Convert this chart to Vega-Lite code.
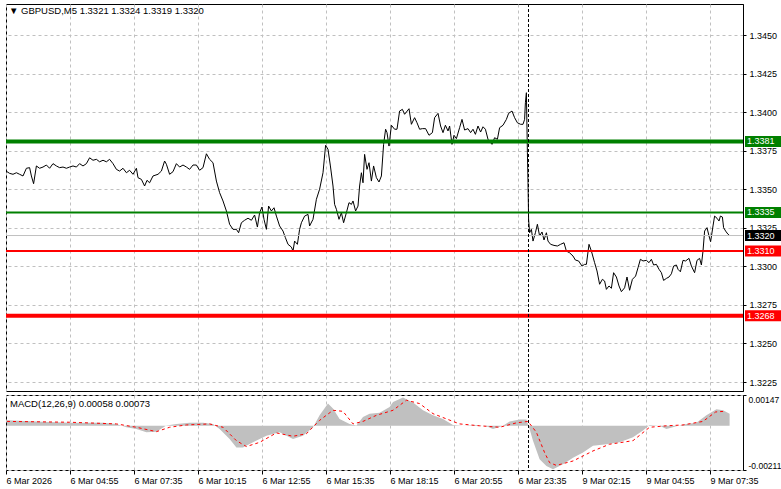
{
"$schema": "https://vega.github.io/schema/vega-lite/v6.json",
"padding": {"left": 3, "top": 3, "right": 0, "bottom": 0},
"background": "white",
"spacing": 2,
"config": {
 "view": {"stroke": "black", "strokeWidth": 1},
 "axis": {"labelFont": "Liberation Sans", "labelFontSize": 9, "labelColor": "black", "gridColor": "#c0c0c0", "gridDash": [3, 3], "gridWidth": 1, "domainColor": "black", "tickColor": "black"}
},
"datasets": {
 "price": [
  {"b":0,"p":1.33614},{"b":1.3,"p":1.33603},{"b":3,"p":1.33597},{"b":4.7,"p":1.33607},{"b":6.3,"p":1.33597},{"b":8,"p":1.33586},{"b":9.7,"p":1.33636},{"b":11.3,"p":1.3364},{"b":12.2,"p":1.33586},{"b":13.3,"p":1.33536},{"b":14.7,"p":1.33651},{"b":16.3,"p":1.33636},{"b":18,"p":1.33644},{"b":19.7,"p":1.33657},{"b":21.3,"p":1.33636},{"b":23,"p":1.33666},{"b":24.7,"p":1.33651},{"b":26.3,"p":1.3364},{"b":28,"p":1.33644},{"b":29.7,"p":1.33636},{"b":31.3,"p":1.33644},{"b":33,"p":1.33651},{"b":34.7,"p":1.33644},{"b":36.3,"p":1.33666},{"b":38,"p":1.33651},{"b":39.7,"p":1.33666},{"b":41.3,"p":1.33704},{"b":43,"p":1.33688},{"b":44.7,"p":1.33694},{"b":46.3,"p":1.33678},{"b":48,"p":1.33688},{"b":49.7,"p":1.33678},{"b":51.3,"p":1.33694},{"b":53,"p":1.33666},{"b":54.7,"p":1.33629},{"b":56.3,"p":1.33618},{"b":58,"p":1.33636},{"b":59.7,"p":1.33607},{"b":61.3,"p":1.33623},{"b":63,"p":1.33597},{"b":64.7,"p":1.33636},{"b":65.5,"p":1.33575},{"b":67.2,"p":1.33564},{"b":68.8,"p":1.33521},{"b":70,"p":1.33558},{"b":71.3,"p":1.33542},{"b":73,"p":1.33586},
  {"b":75.5,"p":1.33597},{"b":77.2,"p":1.33618},{"b":78.8,"p":1.33683},{"b":79.7,"p":1.33662},{"b":81.3,"p":1.33597},{"b":83,"p":1.33614},{"b":84.7,"p":1.33666},{"b":86.3,"p":1.33644},{"b":88,"p":1.33657},{"b":89.7,"p":1.33644},{"b":91.3,"p":1.33629},{"b":93,"p":1.33657},{"b":94.7,"p":1.33657},{"b":96.3,"p":1.33623},{"b":98,"p":1.3364},{"b":99.7,"p":1.3373},{"b":101.3,"p":1.33694},{"b":103,"p":1.33672},{"b":104.7,"p":1.33553},{"b":106.3,"p":1.33478},{"b":108,"p":1.33424},{"b":109.7,"p":1.33359},{"b":111.3,"p":1.33273},{"b":113,"p":1.3324},{"b":114.7,"p":1.3324},{"b":115.8,"p":1.33218},{"b":117.2,"p":1.33283},{"b":118.8,"p":1.33299},{"b":120.5,"p":1.33312},{"b":122.2,"p":1.33299},{"b":123.8,"p":1.33333},{"b":125.2,"p":1.33255},{"b":126.3,"p":1.33348},{"b":127.5,"p":1.33385},{"b":128.5,"p":1.33305},{"b":129.7,"p":1.3324},{"b":130.8,"p":1.33391},{"b":132.2,"p":1.33359},{"b":133.5,"p":1.3338},{"b":134.7,"p":1.33326},{"b":136.3,"p":1.33262},{"b":138,"p":1.33229},{"b":139.2,"p":1.33186},{"b":140.5,"p":1.33143},{"b":142.2,"p":1.33125},{"b":143,"p":1.33099},{"b":143.8,"p":1.33164},{"b":145.2,"p":1.33143},
  {"b":146.3,"p":1.3324},{"b":147.2,"p":1.33283},{"b":148.8,"p":1.33326},{"b":150.5,"p":1.33337},{"b":151.3,"p":1.33262},{"b":153,"p":1.33305},{"b":154.7,"p":1.33435},{"b":156.3,"p":1.335},{"b":158,"p":1.33607},{"b":159.3,"p":1.33785},{"b":160.5,"p":1.33759},{"b":161.7,"p":1.33651},{"b":163,"p":1.33521},{"b":163.8,"p":1.33402},{"b":164.7,"p":1.3337},{"b":166,"p":1.33305},{"b":167.2,"p":1.33348},{"b":168.3,"p":1.33283},{"b":169.7,"p":1.33348},{"b":171,"p":1.33413},{"b":172.2,"p":1.33402},{"b":173,"p":1.33424},{"b":174.3,"p":1.33359},{"b":175.5,"p":1.33391},{"b":176.3,"p":1.33521},{"b":177.2,"p":1.33607},{"b":178,"p":1.33542},{"b":178.8,"p":1.33726},{"b":180,"p":1.33629},{"b":181,"p":1.33672},{"b":182.2,"p":1.33553},{"b":183.3,"p":1.33651},{"b":184.7,"p":1.33575},{"b":186,"p":1.33547},{"b":187.2,"p":1.33586},{"b":188.3,"p":1.33791},{"b":189.3,"p":1.33889},{"b":190,"p":1.33867},{"b":191,"p":1.3378},{"b":192.2,"p":1.33915},{"b":193.8,"p":1.33889},{"b":195,"p":1.33889},{"b":196.3,"p":1.34007},{"b":197.7,"p":1.34018},{"b":198.8,"p":1.33986},{"b":201,"p":1.34022},{"b":202.2,"p":1.33921},{"b":203.8,"p":1.33964},{"b":205,"p":1.33931},{"b":206.3,"p":1.33889},{"b":207.7,"p":1.33893},{"b":209.3,"p":1.33893},{"b":211,"p":1.3385},{"b":212.7,"p":1.33867},{"b":213.8,"p":1.33964},{"b":215.5,"p":1.33992},
  {"b":216.8,"p":1.3391},{"b":218,"p":1.33867},{"b":219.2,"p":1.33915},{"b":220.5,"p":1.33878},{"b":221.3,"p":1.3391},{"b":222.5,"p":1.33791},{"b":223.5,"p":1.3385},{"b":224.7,"p":1.33828},{"b":226.3,"p":1.33899},{"b":227.5,"p":1.33953},{"b":228.8,"p":1.33884},{"b":230.5,"p":1.33893},{"b":231.8,"p":1.33867},{"b":233,"p":1.33889},{"b":234.2,"p":1.33856},{"b":235.5,"p":1.3391},{"b":236.8,"p":1.33871},{"b":238,"p":1.33905},{"b":239.2,"p":1.33889},{"b":240.5,"p":1.33824},{"b":242.5,"p":1.33791},{"b":243.8,"p":1.33834},{"b":245.2,"p":1.33824},{"b":246.3,"p":1.33899},{"b":248,"p":1.33915},{"b":249.7,"p":1.33953},{"b":250.8,"p":1.33992},{"b":252.5,"p":1.34007},{"b":253.8,"p":1.33964},{"b":255.2,"p":1.33931},{"b":256.8,"p":1.33921},{"b":258,"p":1.33921},{"b":258.8,"p":1.33953},{"b":259.2,"p":1.34061},{"b":259.7,"p":1.34126},{"b":260.2,"p":1.33737},{"b":260.5,"p":1.33542},{"b":260.8,"p":1.33305},{"b":261.3,"p":1.33218},{"b":262.2,"p":1.3324},{"b":263,"p":1.33164},{"b":264.2,"p":1.33218},{"b":265.2,"p":1.33273},{"b":266.3,"p":1.33197},{"b":267.5,"p":1.33223},{"b":268.5,"p":1.33171},{"b":269.7,"p":1.33218},{"b":270.5,"p":1.33164},{"b":271.8,"p":1.33143},{"b":273.5,"p":1.33136},{"b":275.2,"p":1.33132},{"b":276.8,"p":1.33143},{"b":278.5,"p":1.33153},{"b":279.7,"p":1.33099},{"b":281.3,"p":1.33088},{"b":283,"p":1.33067},{"b":284.2,"p":1.33041},{"b":285.8,"p":1.33035},{"b":287.5,"p":1.33002},{"b":288.8,"p":1.33013},
  {"b":289.7,"p":1.33013},{"b":291,"p":1.33143},{"b":292.2,"p":1.33099},{"b":293.8,"p":1.33024},{"b":295,"p":1.3297},{"b":296.3,"p":1.32884},{"b":297.7,"p":1.32916},{"b":298.8,"p":1.32905},{"b":299.7,"p":1.32851},{"b":301,"p":1.32873},{"b":302.2,"p":1.32858},{"b":303.3,"p":1.32959},{"b":304.7,"p":1.32931},{"b":306,"p":1.32873},{"b":307.2,"p":1.32836},{"b":308.8,"p":1.32861},{"b":310,"p":1.32931},{"b":311.3,"p":1.32845},{"b":312.7,"p":1.32916},{"b":314.3,"p":1.32937},{"b":315.5,"p":1.32991},{"b":316.7,"p":1.33046},{"b":318,"p":1.33035},{"b":319.7,"p":1.33039},{"b":321,"p":1.33024},{"b":322.2,"p":1.33046},{"b":323.3,"p":1.33009},{"b":324.7,"p":1.33013},{"b":326,"p":1.32981},{"b":327.2,"p":1.32959},{"b":328.3,"p":1.32909},{"b":329.7,"p":1.32922},{"b":331,"p":1.32931},{"b":332.2,"p":1.32952},{"b":333.3,"p":1.33002},{"b":334.7,"p":1.33009},{"b":335.5,"p":1.32981},{"b":336.7,"p":1.32965},{"b":338,"p":1.33039},{"b":339.3,"p":1.33035},{"b":341,"p":1.33052},{"b":342.2,"p":1.33002},{"b":343.8,"p":1.32959},{"b":345,"p":1.33039},{"b":346.3,"p":1.33052},{"b":347.2,"p":1.33009},{"b":348,"p":1.33099},{"b":348.8,"p":1.33229},{"b":350,"p":1.33251},{"b":351,"p":1.33197},{"b":351.8,"p":1.3316},{"b":353,"p":1.33262},{"b":353.8,"p":1.33326},{"b":355,"p":1.33312},{"b":356,"p":1.33294},{"b":356.7,"p":1.33326},{"b":357.7,"p":1.3332},{"b":358.3,"p":1.33251},{"b":359.3,"p":1.33229},{"b":360.5,"p":1.33208},{"b":361.3,"p":1.332}
 ],
 "levels": [
  {"p":1.3381,"kind":"buy target"},
  {"p":1.3335,"kind":"buy entry"},
  {"p":1.3320,"kind":"last price"},
  {"p":1.3310,"kind":"sell entry"},
  {"p":1.3268,"kind":"sell target"}
 ],
 "sep": [{"b":260.75}],
 "heading": [{"main": "▼ GBPUSD,M5  1.3321 1.3324 1.3319 1.3320", "macd": "MACD(12,26,9) 0.00058 0.00073"}],
 "hist": [
  {"b":0,"m":0.00026},{"b":14.7,"m":0.00021},{"b":31.3,"m":0.00014},{"b":48,"m":0.00014},{"b":54.7,"m":0.00009},{"b":59.7,"m":-0.00007},{"b":64.7,"m":-0.00015},{"b":69.7,"m":-0.00031},{"b":74.7,"m":-0.00028},{"b":79.7,"m":0.00001},{"b":84.7,"m":0.00009},{"b":91.3,"m":0.00014},{"b":98,"m":0.00014},{"b":103,"m":0.00009},{"b":106.3,"m":-0.00015},{"b":111.3,"m":-0.00063},{"b":114.7,"m":-0.00104},{"b":118,"m":-0.00104},{"b":123,"m":-0.00079},{"b":129.7,"m":-0.00047},{"b":136.3,"m":-0.00031},{"b":143,"m":-0.00063},{"b":148,"m":-0.00047},{"b":153,"m":-0.00007},{"b":156.3,"m":0.0005},{"b":160.5,"m":0.00106},{"b":163,"m":0.00082},{"b":166.3,"m":0.00033},{"b":171.3,"m":0.00009},{"b":174.7,"m":0.00001},{"b":178,"m":0.00042},{"b":181.3,"m":0.00058},{"b":186.3,"m":0.00062},{"b":191.3,"m":0.0009},
  {"b":193,"m":0.00114},{"b":198,"m":0.00135},{"b":203,"m":0.00111},{"b":208,"m":0.00074},{"b":213,"m":0.0005},{"b":218,"m":0.00033},{"b":223,"m":0.00004},{"b":228,"m":0},{"b":234.7,"m":0.00004},{"b":239.7,"m":-0.00002},{"b":243,"m":-0.00015},{"b":248,"m":0},{"b":251.3,"m":0.00021},{"b":256.3,"m":0.0003},{"b":259.7,"m":0.0003},{"b":261.3,"m":-0.00015},{"b":263,"m":-0.00071},{"b":266.3,"m":-0.0016},{"b":269.7,"m":-0.00192},{"b":273,"m":-0.00208},{"b":278,"m":-0.00184},{"b":283,"m":-0.00152},{"b":288,"m":-0.00128},{"b":293,"m":-0.00095},{"b":299.7,"m":-0.00088},{"b":306.3,"m":-0.00079},{"b":313,"m":-0.00055},{"b":318,"m":-0.00023},{"b":321.3,"m":0.00004},{"b":326.3,"m":0},{"b":329.7,"m":-0.00015},{"b":334.7,"m":-0.00002},{"b":339.7,"m":0.00009},{"b":344.7,"m":0.00014},{"b":349.7,"m":0.0005},{"b":354.7,"m":0.00079},{"b":358,"m":0.00074},{"b":361.3,"m":0.00058}
 ],
 "signal": [
  {"b":0,"s":0.00021},{"b":31.3,"s":0.00017},{"b":54.7,"s":0.00009},{"b":64.7,"s":-0.00007},{"b":74.7,"s":-0.00028},{"b":81.3,"s":-0.00007},{"b":89.7,"s":0.00004},{"b":101.3,"s":0.00009},{"b":108,"s":-0.00007},{"b":114.7,"s":-0.00071},{"b":119.7,"s":-0.00099},{"b":126.3,"s":-0.00079},{"b":134.7,"s":-0.00034},{"b":143,"s":-0.0005},{"b":149.7,"s":-0.00038},{"b":156.3,"s":0.00026},{"b":163,"s":0.00074},{"b":168,"s":0.00069},{"b":173,"s":0.00009},{"b":178,"s":0.00021},{"b":184.7,"s":0.0005},{"b":191.3,"s":0.00069},{"b":193,"s":0.00074},{"b":199.7,"s":0.00122},{"b":206.3,"s":0.00106},{"b":213,"s":0.00058},{"b":219.7,"s":0.00033},{"b":226.3,"s":0.00009},{"b":236.3,"s":0},{"b":246.3,"s":-0.00007},{"b":254.7,"s":0.00014},{"b":260.5,"s":0.00021},{"b":264.7,"s":-0.00031},{"b":268.8,"s":-0.00128},{"b":271.3,"s":-0.00176},{"b":274.7,"s":-0.00189},{"b":283,"s":-0.00168},{"b":293,"s":-0.0012},{"b":301.3,"s":-0.00088},{"b":313,"s":-0.00071},{"b":321.3,"s":-0.00007},{"b":329.7,"s":0},{"b":338,"s":0.00004},{"b":348,"s":0.00021},{"b":354.3,"s":0.00066},{"b":358.5,"s":0.00069}
 ]
},
"vconcat": [
 {
  "width": 737, "height": 387,
  "layer": [
   {
    "data": {"name": "price"},
    "mark": {"type": "line", "color": "black", "strokeWidth": 1},
    "encoding": {
     "x": {"field": "b", "type": "quantitative", "scale": {"domain": [-0.5, 368], "nice": false, "zero": false},
      "axis": {"title": null, "labels": false, "ticks": false, "domain": false, "grid": true,
       "values": [-0.5, 15.5, 31.5, 47.5, 63.5, 79.5, 95.5, 111.5, 127.5, 143.5, 159.5, 175.5, 191.5, 207.5, 223.5, 239.5, 255.5, 271.5, 287.5, 303.5, 319.5, 335.5, 351.5]}},
     "y": {"field": "p", "type": "quantitative", "scale": {"domain": [1.32192, 1.34701], "nice": false, "zero": false},
      "axis": {"title": null, "orient": "right", "values": [1.3225, 1.325, 1.3275, 1.33, 1.3325, 1.335, 1.3375, 1.34, 1.3425, 1.345], "format": ".4f", "tickSize": 3, "labelPadding": 3, "grid": true}}
    }
   },
   {
    "data": {"name": "levels"},
    "mark": {"type": "rule"},
    "encoding": {
     "y": {"field": "p", "type": "quantitative"},
     "stroke": {"field": "kind", "type": "nominal", "legend": null,
      "scale": {"domain": ["buy target", "buy entry", "last price", "sell entry", "sell target"], "range": ["#008000", "#008000", "#c0c0c0", "#ff0000", "#ff0000"]}},
     "strokeWidth": {"field": "kind", "type": "nominal", "legend": null,
      "scale": {"type": "ordinal", "domain": ["buy target", "buy entry", "last price", "sell entry", "sell target"], "range": [4, 2, 1, 2, 4]}}
    }
   },
   {
    "data": {"name": "sep"},
    "mark": {"type": "rule", "color": "black", "strokeDash": [3, 2], "strokeWidth": 1},
    "encoding": {"x": {"field": "b", "type": "quantitative"}}
   },
   {
    "data": {"name": "levels"},
    "mark": {"type": "tick", "orient": "horizontal", "size": 36, "thickness": 11, "opacity": 1},
    "encoding": {
     "y": {"field": "p", "type": "quantitative"},
     "x": {"datum": 378, "type": "quantitative"},
     "fill": {"field": "kind", "type": "nominal", "legend": null,
      "scale": {"domain": ["buy target", "buy entry", "last price", "sell entry", "sell target"], "range": ["#008000", "#008000", "#000000", "#ff0000", "#ff0000"]}}
    }
   },
   {
    "data": {"name": "levels"},
    "mark": {"type": "text", "align": "left", "baseline": "middle", "color": "white", "font": "Liberation Sans", "fontSize": 9},
    "encoding": {
     "y": {"field": "p", "type": "quantitative"},
     "x": {"datum": 370, "type": "quantitative"},
     "text": {"field": "p", "type": "quantitative", "format": ".4f"}
    }
   },
   {
    "data": {"name": "heading"},
    "mark": {"type": "text", "align": "left", "baseline": "middle", "color": "black", "font": "Liberation Sans", "fontSize": 9.5, "dx": 3, "dy": 7},
    "encoding": {
     "x": {"datum": -0.5, "type": "quantitative"},
     "y": {"datum": 1.34701, "type": "quantitative"},
     "text": {"field": "main", "type": "nominal"}
    }
   }
  ]
 },
 {
  "width": 737, "height": 75,
  "layer": [
   {
    "data": {"name": "hist"},
    "mark": {"type": "area", "color": "#c0c0c0", "opacity": 1},
    "encoding": {
     "x": {"field": "b", "type": "quantitative", "scale": {"domain": [-0.5, 368], "nice": false, "zero": false},
      "axis": {"title": null, "orient": "bottom", "domain": false, "grid": true, "tickSize": 4, "labelPadding": 2,
       "labelAlign": "left", "labelFlush": false, "labelOverlap": false, "labelBound": false,
       "tickOpacity": {"condition": {"test": "(datum.value + 0.5) % 32 == 0", "value": 1}, "value": 0},
       "values": [-0.5, 15.5, 31.5, 47.5, 63.5, 79.5, 95.5, 111.5, 127.5, 143.5, 159.5, 175.5, 191.5, 207.5, 223.5, 239.5, 255.5, 271.5, 287.5, 303.5, 319.5, 335.5, 351.5],
       "labelExpr": "(datum.value + 0.5) % 32 == 0 ? ['6 Mar 2026','6 Mar 04:55','6 Mar 07:35','6 Mar 10:15','6 Mar 12:55','6 Mar 15:35','6 Mar 18:15','6 Mar 20:55','6 Mar 23:35','9 Mar 02:15','9 Mar 04:55','9 Mar 07:35'][(datum.value + 0.5) / 32] : ''"}},
     "y": {"field": "m", "type": "quantitative", "scale": {"domain": [-0.00211, 0.00147], "nice": false, "zero": false},
      "axis": {"title": null, "orient": "right", "values": [-0.00211, 0, 0.00147], "labelFlush": true, "tickSize": 3, "labelPadding": 2, "labelFontSize": 8.5, "grid": true,
       "labelExpr": "datum.value == 0 ? '0.00' : (datum.value < 0 ? '-' + format(-datum.value, '.5f') : format(datum.value, '.5f'))"}}
    }
   },
   {
    "data": {"name": "signal"},
    "mark": {"type": "line", "color": "#ff0000", "strokeWidth": 1, "strokeDash": [3, 3]},
    "encoding": {
     "x": {"field": "b", "type": "quantitative"},
     "y": {"field": "s", "type": "quantitative"}
    }
   },
   {
    "data": {"name": "sep"},
    "mark": {"type": "rule", "color": "black", "strokeDash": [3, 2], "strokeWidth": 1},
    "encoding": {"x": {"field": "b", "type": "quantitative"}}
   },
   {
    "data": {"name": "heading"},
    "mark": {"type": "text", "align": "left", "baseline": "middle", "color": "black", "font": "Liberation Sans", "fontSize": 9.5, "dx": 4, "dy": 9},
    "encoding": {
     "x": {"datum": -0.5, "type": "quantitative"},
     "y": {"datum": 0.00147, "type": "quantitative"},
     "text": {"field": "macd", "type": "nominal"}
    }
   }
  ]
 }
]
}
